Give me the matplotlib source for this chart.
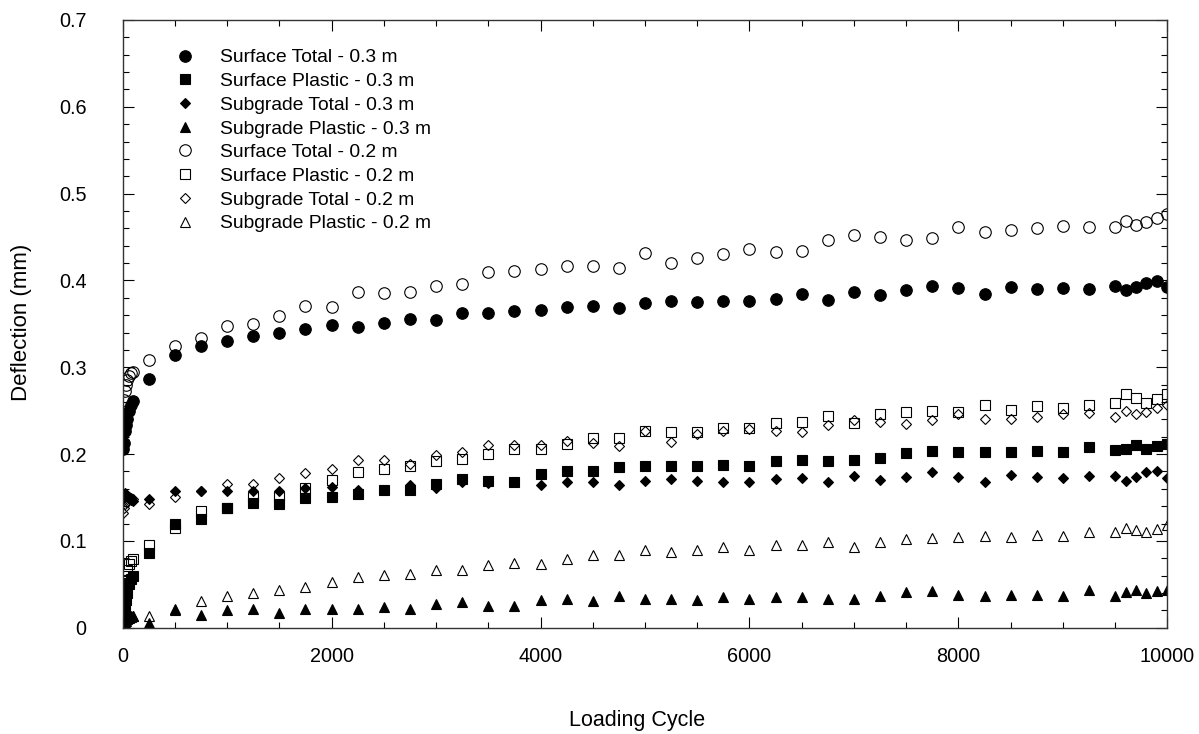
import matplotlib
matplotlib.use("Agg")
import matplotlib.pyplot as plt
from matplotlib.ticker import MultipleLocator, FuncFormatter

plt.rcParams['font.family'] = ['Liberation Sans', 'DejaVu Sans']

# ---------------- data ----------------
cycles_early = [1, 10, 20, 30, 40, 60, 80, 100]
cycles_mid = [250, 500, 750, 1000, 1250, 1500, 1750, 2000, 2250, 2500, 2750, 3000,
              3250, 3500, 3750, 4000, 4250, 4500, 4750, 5000, 5250, 5500, 5750, 6000,
              6250, 6500, 6750, 7000, 7250, 7500, 7750, 8000, 8250, 8500, 8750, 9000,
              9250, 9500]
cycles_end = [9600, 9700, 9800, 9900, 10000]
cycles = cycles_early + cycles_mid + cycles_end

surface_total_03 = [0.206, 0.213, 0.227, 0.234, 0.240, 0.250, 0.256, 0.261,
                    0.286, 0.314, 0.325, 0.330, 0.336, 0.339, 0.344, 0.349, 0.346, 0.351, 0.355, 0.354,
                    0.363, 0.363, 0.365, 0.366, 0.369, 0.370, 0.368, 0.374, 0.376, 0.375, 0.376, 0.376,
                    0.379, 0.384, 0.378, 0.387, 0.383, 0.389, 0.394, 0.391, 0.384, 0.392, 0.390, 0.391,
                    0.390, 0.394,
                    0.389, 0.393, 0.397, 0.399, 0.393]
surface_plastic_03 = [0.005, 0.012, 0.022, 0.032, 0.040, 0.050, 0.056, 0.060,
                      0.086, 0.120, 0.125, 0.138, 0.144, 0.143, 0.149, 0.151, 0.154, 0.159, 0.159, 0.166,
                      0.171, 0.169, 0.168, 0.177, 0.180, 0.180, 0.185, 0.186, 0.186, 0.186, 0.187, 0.186,
                      0.192, 0.193, 0.192, 0.193, 0.196, 0.201, 0.204, 0.202, 0.202, 0.202, 0.203, 0.202,
                      0.208, 0.205,
                      0.206, 0.210, 0.206, 0.209, 0.212]
subgrade_total_03 = [0.148, 0.153, 0.155, 0.152, 0.150, 0.149, 0.147, 0.146,
                     0.148, 0.157, 0.157, 0.157, 0.157, 0.158, 0.161, 0.162, 0.159, 0.159, 0.164, 0.161,
                     0.168, 0.167, 0.168, 0.164, 0.168, 0.168, 0.164, 0.169, 0.171, 0.169, 0.168, 0.168,
                     0.171, 0.172, 0.168, 0.175, 0.170, 0.174, 0.179, 0.174, 0.168, 0.176, 0.174, 0.172,
                     0.175, 0.175,
                     0.169, 0.174, 0.179, 0.180, 0.172]
subgrade_plastic_03 = [0.003, 0.005, 0.007, 0.008, 0.010, 0.011, 0.012, 0.013,
                       0.006, 0.021, 0.015, 0.020, 0.022, 0.017, 0.021, 0.021, 0.021, 0.024, 0.022, 0.027,
                       0.030, 0.025, 0.025, 0.032, 0.033, 0.031, 0.036, 0.033, 0.033, 0.032, 0.035, 0.033,
                       0.035, 0.035, 0.033, 0.033, 0.036, 0.041, 0.042, 0.038, 0.036, 0.038, 0.038, 0.036,
                       0.044, 0.036,
                       0.041, 0.043, 0.040, 0.042, 0.043]
surface_total_02 = [0.249, 0.262, 0.273, 0.280, 0.285, 0.290, 0.293, 0.295,
                    0.308, 0.324, 0.334, 0.347, 0.350, 0.359, 0.370, 0.369, 0.387, 0.385, 0.387, 0.394,
                    0.396, 0.410, 0.411, 0.413, 0.417, 0.417, 0.414, 0.432, 0.420, 0.426, 0.431, 0.436,
                    0.433, 0.434, 0.446, 0.452, 0.450, 0.447, 0.449, 0.462, 0.456, 0.458, 0.460, 0.463,
                    0.462, 0.462,
                    0.469, 0.464, 0.467, 0.472, 0.477]
surface_plastic_02 = [0.035, 0.045, 0.052, 0.060, 0.067, 0.073, 0.077, 0.079,
                      0.095, 0.115, 0.134, 0.138, 0.151, 0.151, 0.161, 0.170, 0.179, 0.183, 0.186, 0.192,
                      0.194, 0.200, 0.206, 0.206, 0.212, 0.219, 0.218, 0.227, 0.225, 0.225, 0.230, 0.230,
                      0.236, 0.237, 0.244, 0.236, 0.246, 0.249, 0.250, 0.248, 0.256, 0.251, 0.255, 0.253,
                      0.256, 0.259,
                      0.269, 0.265, 0.259, 0.264, 0.269]
subgrade_total_02 = [0.132, 0.138, 0.142, 0.145, 0.148, 0.150, 0.149, 0.148,
                     0.143, 0.150, 0.157, 0.165, 0.166, 0.172, 0.178, 0.183, 0.193, 0.193, 0.189, 0.199,
                     0.202, 0.210, 0.211, 0.210, 0.215, 0.213, 0.209, 0.227, 0.214, 0.223, 0.227, 0.229,
                     0.226, 0.225, 0.234, 0.239, 0.237, 0.235, 0.239, 0.246, 0.240, 0.240, 0.243, 0.246,
                     0.247, 0.243,
                     0.250, 0.246, 0.248, 0.253, 0.257]
subgrade_plastic_02 = [0.004, 0.006, 0.008, 0.010, 0.011, 0.012, 0.013, 0.014,
                       0.014, 0.020, 0.031, 0.036, 0.040, 0.043, 0.047, 0.053, 0.058, 0.061, 0.062, 0.066,
                       0.067, 0.072, 0.075, 0.073, 0.079, 0.084, 0.084, 0.089, 0.087, 0.089, 0.093, 0.089,
                       0.095, 0.095, 0.099, 0.093, 0.099, 0.102, 0.103, 0.104, 0.106, 0.105, 0.107, 0.106,
                       0.110, 0.110,
                       0.115, 0.112, 0.110, 0.114, 0.118]

labels = ["Surface Total - 0.3 m", "Surface Plastic - 0.3 m",
          "Subgrade Total - 0.3 m", "Subgrade Plastic - 0.3 m",
          "Surface Total - 0.2 m", "Surface Plastic - 0.2 m",
          "Subgrade Total - 0.2 m", "Subgrade Plastic - 0.2 m"]
series = [surface_total_03, surface_plastic_03, subgrade_total_03, subgrade_plastic_03,
          surface_total_02, surface_plastic_02, subgrade_total_02, subgrade_plastic_02]
xticks = [0, 2000, 4000, 6000, 8000, 10000]
yticks = [0, 0.1, 0.2, 0.3, 0.4, 0.5, 0.6, 0.7]

# ---------------- styles ----------------
markers = ['o', 's', 'D', '^', 'o', 's', 'D', '^']
sizes = [8.3, 7.6, 5.3, 7.2, 8.3, 7.6, 5.3, 7.2]
filled = [True, True, True, True, False, False, False, False]

fig = plt.figure(figsize=(11.99, 7.34), dpi=100)
ax = fig.add_axes([0.1023, 0.1448, 0.8713, 0.828])

for y, lab, m, s, f in zip(series, labels, markers, sizes, filled):
    ax.plot(cycles, y, linestyle='none', marker=m, markersize=s,
            markerfacecolor='black' if f else 'none', markeredgecolor='black',
            markeredgewidth=0.8, label=lab)

ax.set_xlim(0, 10000)
ax.set_ylim(0, 0.7)
ax.set_xticks(xticks)
ax.set_yticks(yticks)
ax.xaxis.set_minor_locator(MultipleLocator(500))
ax.yaxis.set_minor_locator(MultipleLocator(0.02))
ax.yaxis.set_major_formatter(FuncFormatter(lambda v, p: '%g' % round(v, 2)))
ax.xaxis.set_major_formatter(FuncFormatter(lambda v, p: '%d' % v))

ax.tick_params(which='both', direction='in', top=True, right=True, color='black', width=0.8)
ax.tick_params(which='major', length=8)
ax.tick_params(which='minor', length=4.5)
ax.tick_params(axis='y', which='major', pad=26, labelsize=14.3)
ax.tick_params(axis='x', which='major', pad=14, labelsize=14.3)
for sp in ax.spines.values():
    sp.set_linewidth(1.0)
    sp.set_color('#333333')

ax.set_xlabel("Loading Cycle", fontsize=15.5, va='center')
ax.set_ylabel("Deflection (mm)", fontsize=16, va='center')
ax.xaxis.set_label_coords(0.4923, -0.152)
ax.yaxis.set_label_coords(-0.0964, 0.503)

ax.legend(loc='upper left', bbox_to_anchor=(0.0505, 0.9523), frameon=False,
          fontsize=13.9, handlelength=1.0, handletextpad=1.3, labelspacing=0.32,
          borderpad=0, borderaxespad=0, numpoints=1)

fig.savefig("out.png", dpi=100)
